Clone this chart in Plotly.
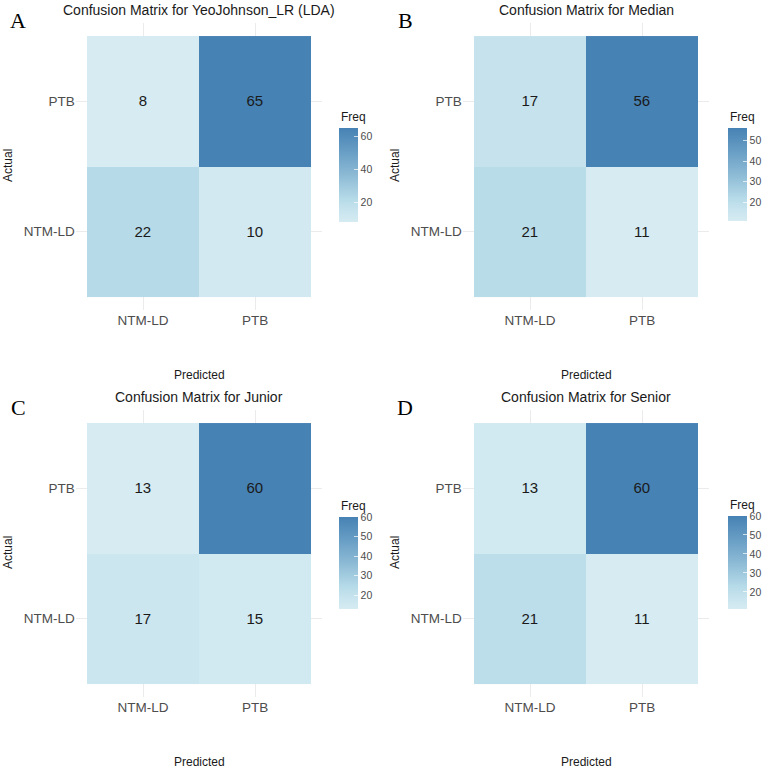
import numpy as np
import plotly.graph_objects as go

# ---------------- data ----------------
categories = ["NTM-LD", "PTB"]          # predicted (x) and actual (y) classes
titles = ["Confusion Matrix for YeoJohnson_LR (LDA)",
          "Confusion Matrix for Median",
          "Confusion Matrix for Junior",
          "Confusion Matrix for Senior"]
letters = ["A", "B", "C", "D"]
# rows: actual = NTM-LD, PTB ; cols: predicted = NTM-LD, PTB
freq_A = [[22, 10], [8, 65]]
freq_B = [[21, 11], [17, 56]]
freq_C = [[17, 15], [13, 60]]
freq_D = [[21, 11], [13, 60]]
cbar_ticks_A = [20, 40, 60]
cbar_ticks_B = [20, 30, 40, 50]
cbar_ticks_C = [20, 30, 40, 50, 60]
cbar_ticks_D = [20, 30, 40, 50, 60]

# ---------------- style ----------------
W, H = 767, 769
colorscale = [
    [0.00, "rgb(214,235,242)"],
    [0.12, "rgb(200,228,238)"],
    [0.25, "rgb(181,218,232)"],
    [0.50, "rgb(140,186,213)"],
    [0.75, "rgb(104,158,197)"],
    [1.00, "rgb(70,130,180)"],
]


def fx(px):
    return px / W


def fy(py):
    return 1 - py / H


D = 387
panels = [
    dict(z=freq_A, ticks=cbar_ticks_A, ox=0, oy=0, cb=(339, 128, 222)),
    dict(z=freq_B, ticks=cbar_ticks_B, ox=D, oy=0, cb=(728, 128, 221)),
    dict(z=freq_C, ticks=cbar_ticks_C, ox=0, oy=D, cb=(339, 517, 609)),
    dict(z=freq_D, ticks=cbar_ticks_D, ox=D, oy=D, cb=(728, 516, 609)),
]

fig = go.Figure()
annotations = []
layout = {}
for i, p in enumerate(panels):
    k = "" if i == 0 else str(i + 1)
    ox, oy = p["ox"], p["oy"]
    x0, x1 = 75.8 + ox, 322.2 + ox
    y0, y1 = 23.0 + oy, 310.0 + oy
    zz = np.array(p["z"])
    cbx, cby0, cby1 = p["cb"]
    fig.add_trace(go.Heatmap(
        x=categories, y=categories, z=p["z"],
        xaxis="x" + k, yaxis="y" + k,
        colorscale=colorscale, zmin=zz.min(), zmax=zz.max(),
        texttemplate="%{z}", textfont=dict(size=15, color="#1a1a1a", family="Liberation Sans, Arial"),
        hoverinfo="skip",
        colorbar=dict(
            x=fx(cbx), xanchor="left", xref="paper", xpad=0, ypad=0,
            y=fy((cby0 + cby1) / 2), yanchor="middle",
            lenmode="pixels", len=cby1 - cby0, thickness=19,
            outlinewidth=0, tickvals=p["ticks"], ticks="inside", ticklen=4,
            tickcolor="rgba(255,255,255,0.7)",
            tickfont=dict(size=10.5, color="#4D4D4D", family="Liberation Sans, Arial"),
        ),
    ))
    axfont = dict(size=13.5, color="#4D4D4D", family="Liberation Sans, Arial")
    layout["xaxis" + k] = dict(
        domain=[fx(x0), fx(x1)], anchor="y" + k, type="category",
        categoryorder="array", categoryarray=categories, range=[-0.6, 1.6],
        showgrid=True, gridcolor="#EBEBEB", gridwidth=1.2, zeroline=False,
        showline=False, ticks="", tickfont=axfont, fixedrange=True)
    layout["yaxis" + k] = dict(
        domain=[fy(y1), fy(y0)], anchor="x" + k, type="category",
        categoryorder="array", categoryarray=categories, range=[-0.6, 1.6],
        showgrid=True, gridcolor="#EBEBEB", gridwidth=1.2, zeroline=False,
        showline=False, ticks="", tickfont=axfont, fixedrange=True)
    cx = (x0 + x1) / 2
    annotations += [
        dict(text=titles[i], x=fx(cx), y=fy(10 + oy), xref="paper", yref="paper",
             showarrow=False, xanchor="center", yanchor="middle",
             font=dict(size=14, color="#1a1a1a", family="Liberation Sans, Arial")),
        dict(text=letters[i], x=fx(18 + ox), y=fy(20 + oy), xref="paper", yref="paper",
             showarrow=False, xanchor="center", yanchor="middle",
             font=dict(size=22, color="#000000", family="Liberation Serif, Times New Roman")),
        dict(text="Actual", x=fx(8 + ox), y=fy(166 + oy), xref="paper", yref="paper",
             showarrow=False, xanchor="center", yanchor="middle", textangle=-90,
             font=dict(size=12, color="#1a1a1a", family="Liberation Sans, Arial")),
        dict(text="Predicted", x=fx(cx), y=fy(375 + oy), xref="paper", yref="paper",
             showarrow=False, xanchor="center", yanchor="middle",
             font=dict(size=12, color="#1a1a1a", family="Liberation Sans, Arial")),
        dict(text="Freq", x=fx(cbx), y=fy(cby0 - 11), xref="paper", yref="paper",
             showarrow=False, xanchor="left", yanchor="middle",
             font=dict(size=12, color="#1a1a1a", family="Liberation Sans, Arial")),
    ]

fig.update_layout(
    width=W, height=H, margin=dict(l=0, r=0, t=0, b=0),
    paper_bgcolor="white", plot_bgcolor="white",
    annotations=annotations, **layout)
fig.write_html("out.html")
